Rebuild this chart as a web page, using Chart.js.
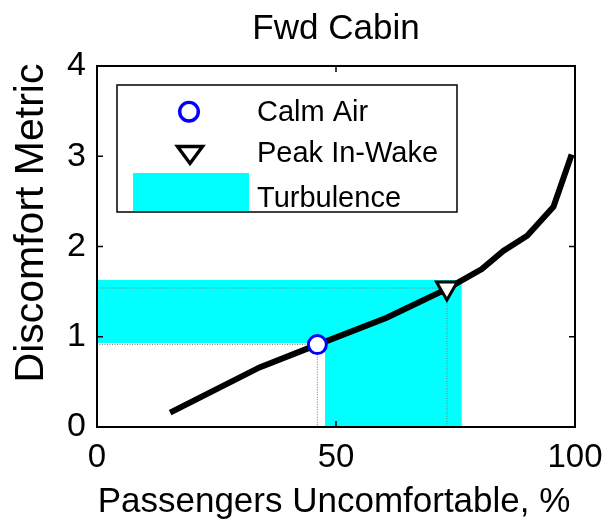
<!DOCTYPE html>
<html><head><meta charset="utf-8">
<script src="https://cdn.jsdelivr.net/npm/chart.js@4.4.1/dist/chart.umd.min.js"></script>
<style>html,body{margin:0;padding:0;background:#fff;}#wrap{width:608px;height:522px;position:relative;}</style>
</head><body><div id="wrap"><canvas id="c" width="608" height="522"></canvas></div>
<script>
// ---- data ----
const curveX = [15.3, 34, 46, 60.6, 73.2, 80.5, 85, 90, 95.5, 99.3];
const curveY = [0.16, 0.66, 0.91, 1.21, 1.53, 1.75, 1.95, 2.12, 2.44, 3.02];
const calmAirX = [46.1];
const calmAirY = [0.913];
const peakX = [73.2];
const peakY = [1.54];
const turbX = [0, 47.7, 47.7, 76.3, 76.3, 0, 0];
const turbY = [0.93, 0.93, 0, 0, 1.63, 1.63, 0.93];
const xTicks = [0, 50, 100];
const yTicks = [0, 1, 2, 3, 4];
const titleText = 'Fwd Cabin';
const xTitle = 'Passengers Uncomfortable, %';
const yTitle = 'Discomfort Metric';
const legendLabels = ['Calm Air', 'Peak In-Wake', 'Turbulence'];

const FONT = "'Liberation Sans', Arial, sans-serif";
const zip = (xs, ys) => xs.map((x, i) => ({x, y: ys[i]}));

const calmGuide = [{x: 0, y: calmAirY[0]}, {x: calmAirX[0], y: calmAirY[0]}, {x: calmAirX[0], y: 0}];
const peakGuide = [{x: 0, y: peakY[0]}, {x: peakX[0], y: peakY[0]}, {x: peakX[0], y: 0}];

const decor = {
  id: 'decor',
  afterDraw(chart) {
    const ctx = chart.ctx, a = chart.chartArea;
    const xs = chart.scales.x, ys = chart.scales.y;
    ctx.save();
    // frame
    ctx.strokeStyle = '#000';
    ctx.lineWidth = 2;
    ctx.strokeRect(a.left, a.top, a.right - a.left, a.bottom - a.top);
    // inward ticks
    ctx.lineWidth = 1.5;
    const tl = 6;
    xTicks.forEach(v => {
      const p = xs.getPixelForValue(v);
      ctx.beginPath();
      ctx.moveTo(p, a.bottom); ctx.lineTo(p, a.bottom - tl);
      ctx.moveTo(p, a.top); ctx.lineTo(p, a.top + tl);
      ctx.stroke();
    });
    yTicks.forEach(v => {
      const p = ys.getPixelForValue(v);
      ctx.beginPath();
      ctx.moveTo(a.left, p); ctx.lineTo(a.left + tl, p);
      ctx.moveTo(a.right, p); ctx.lineTo(a.right - tl, p);
      ctx.stroke();
    });
    // titles
    ctx.fillStyle = '#000';
    ctx.textAlign = 'center';
    ctx.textBaseline = 'alphabetic';
    ctx.font = '35px ' + FONT;
    ctx.fillText(titleText, (a.left + a.right) / 2, 39);
    ctx.font = '35px ' + FONT;
    ctx.fillText(xTitle, 334, 512);
    ctx.save();
    ctx.translate(43, 223);
    ctx.rotate(-Math.PI / 2);
    ctx.font = '41px ' + FONT;
    ctx.fillText(yTitle, 0, 0);
    ctx.restore();
    // legend
    const L = 117, T = 85, R = 457, B = 212;
    ctx.fillStyle = '#fff';
    ctx.fillRect(L, T, R - L, B - T);
    ctx.lineWidth = 1.5;
    ctx.strokeStyle = '#000';
    ctx.strokeRect(L, T, R - L, B - T);
    // circle marker
    ctx.beginPath();
    ctx.arc(189, 111.7, 9.3, 0, Math.PI * 2);
    ctx.fillStyle = '#fff'; ctx.fill();
    ctx.lineWidth = 3.4; ctx.strokeStyle = '#0000ff'; ctx.stroke();
    // triangle marker
    ctx.beginPath();
    ctx.moveTo(177.5, 146.5); ctx.lineTo(202.5, 146.5); ctx.lineTo(190, 163.5); ctx.closePath();
    ctx.fillStyle = '#fff'; ctx.fill();
    ctx.lineWidth = 3.4; ctx.strokeStyle = '#000'; ctx.stroke();
    // cyan patch
    ctx.fillStyle = '#00ffff';
    ctx.fillRect(133, 173, 116, 38);
    ctx.fillStyle = '#000';
    ctx.textAlign = 'left';
    ctx.font = '29px ' + FONT;
    ctx.fillText(legendLabels[0], 257, 121);
    ctx.fillText(legendLabels[1], 257, 162);
    ctx.fillText(legendLabels[2], 257, 207);
    ctx.restore();
  }
};

new Chart(document.getElementById('c'), {
  type: 'scatter',
  data: {
    datasets: [
      {label: 'Peak In-Wake', data: zip(peakX, peakY), pointStyle: 'triangle', rotation: 180,
       pointRadius: 12, pointBorderWidth: 3, pointBorderColor: '#000', pointBackgroundColor: '#fff', showLine: false},
      {label: 'Calm Air', data: zip(calmAirX, calmAirY), pointStyle: 'circle',
       pointRadius: 9, pointBorderWidth: 3, pointBorderColor: '#0000ff', pointBackgroundColor: '#fff', showLine: false},
      {label: 'curve', data: zip(curveX, curveY), showLine: true, borderColor: '#000', borderWidth: 6,
       pointRadius: 0, tension: 0, fill: false, borderJoinStyle: 'miter'},
      {label: 'peakGuide', data: peakGuide, showLine: true, borderColor: '#777', borderWidth: 1,
       borderDash: [1, 1.5], pointRadius: 0, fill: false},
      {label: 'calmGuide', data: calmGuide, showLine: true, borderColor: '#777', borderWidth: 1,
       borderDash: [1, 1.5], pointRadius: 0, fill: false},
      {label: 'Turbulence', data: zip(turbX, turbY), showLine: true, borderWidth: 0, borderColor: 'rgba(0,0,0,0)',
       backgroundColor: '#00ffff', fill: 'shape', pointRadius: 0, tension: 0}
    ]
  },
  options: {
    responsive: false,
    animation: false,
    events: [],
    layout: {padding: {left: 0, right: 33, top: 66, bottom: 0}},
    plugins: {legend: {display: false}, title: {display: false}, tooltip: {enabled: false}},
    scales: {
      x: {
        type: 'linear', min: 0, max: 100,
        afterBuildTicks: s => { s.ticks = xTicks.map(v => ({value: v})); },
        afterFit: s => { s.height = 95; s.paddingLeft = 0; s.paddingRight = 0; },
        grid: {display: false, drawTicks: false},
        border: {display: false},
        ticks: {font: {family: FONT, size: 33}, color: '#000', padding: 11, maxRotation: 0, autoSkip: false}
      },
      y: {
        type: 'linear', min: 0, max: 4,
        afterBuildTicks: s => { s.ticks = yTicks.map(v => ({value: v})); },
        afterFit: s => { s.width = 97; s.paddingTop = 0; s.paddingBottom = 0; },
        grid: {display: false, drawTicks: false},
        border: {display: false},
        ticks: {font: {family: FONT, size: 34}, color: '#000', padding: 11, autoSkip: false}
      }
    }
  },
  plugins: [decor]
});
</script></body></html>
